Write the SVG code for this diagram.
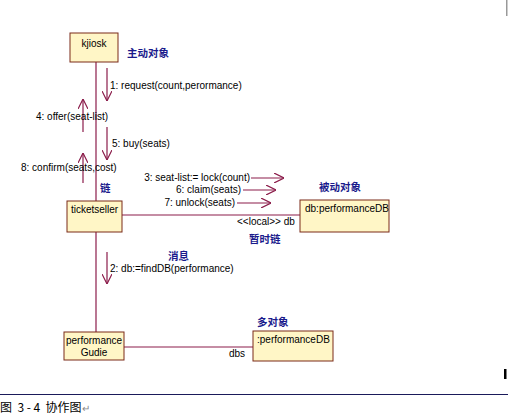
<svg xmlns="http://www.w3.org/2000/svg" width="508" height="414" viewBox="0 0 508 414">
<defs>
<marker id="ah" viewBox="0 0 10 10" refX="10" refY="5" markerWidth="10" markerHeight="10" markerUnits="userSpaceOnUse" orient="auto">
<polyline points="0,0 10,5 0,10" fill="none" stroke="#8b1c4a" stroke-width="1.2"/>
</marker>
<style>
.box{fill:#fff6c6;stroke:#7a2a18;stroke-width:1}
.ln{stroke:#8b1c4a;stroke-width:1.2;fill:none}
.ar{stroke:#8b1c4a;stroke-width:1.2;fill:none;marker-end:url(#ah)}
.t{font-family:"Liberation Sans",Arial,sans-serif;font-size:10px;fill:#000}
.cn{font-family:"Noto Sans CJK SC",sans-serif;font-size:10.5px;font-weight:bold;fill:#1a1a8c}
.cap{font-family:"Noto Sans CJK SC",sans-serif;font-size:12px;fill:#000}
</style>
</defs>
<rect width="508" height="414" fill="#fff"/>
<g id="connectors">
<line class="ln" x1="96" y1="62" x2="96" y2="201"/>
<line class="ln" x1="96" y1="232" x2="96" y2="332"/>
<line class="ln" x1="122" y1="215" x2="300" y2="215"/>
<line class="ln" x1="124" y1="347" x2="253" y2="347"/>
<line class="ar" x1="107" y1="68" x2="107" y2="101"/>
<line class="ar" x1="83" y1="132" x2="83" y2="99"/>
<line class="ar" x1="107" y1="127" x2="107" y2="160"/>
<line class="ar" x1="83" y1="183" x2="83" y2="153"/>
<line class="ar" x1="107" y1="252" x2="107" y2="284"/>
<line class="ar" x1="251" y1="178" x2="284" y2="178"/>
<line class="ar" x1="243" y1="190" x2="276" y2="190"/>
<line class="ar" x1="237" y1="203" x2="271" y2="203"/>
<text class="t" x="110" y="89">1: request(count,perormance)</text>
<text class="t" x="36" y="120">4: offer(seat-list)</text>
<text class="t" x="112" y="147">5: buy(seats)</text>
<text class="t" x="21" y="171">8: confirm(seats,cost)</text>
<text class="t" x="250" y="181" text-anchor="end">3: seat-list:= lock(count)</text>
<text class="t" x="241" y="193" text-anchor="end">6: claim(seats)</text>
<text class="t" x="235" y="206" text-anchor="end">7: unlock(seats)</text>
<text class="t" x="237" y="225">&lt;&lt;local&gt;&gt; db</text>
<text class="t" x="110" y="272">2: db:=findDB(performance)</text>
<text class="t" x="229" y="357">dbs</text>
</g>
<g id="kjiosk">
<rect class="box" x="70" y="33" width="48" height="29"/>
<text class="t" x="94" y="47" text-anchor="middle">kjiosk</text>
</g>
<g id="ticketseller">
<rect class="box" x="67" y="201" width="55" height="31"/>
<text class="t" x="94.5" y="213" text-anchor="middle">ticketseller</text>
</g>
<g id="dbPerformanceDB">
<rect class="box" x="300" y="200" width="89" height="32"/>
<text class="t" x="305" y="212">db:performanceDB</text>
</g>
<g id="performanceGudie">
<rect class="box" x="64" y="332" width="60" height="28"/>
<text class="t" x="94" y="344" text-anchor="middle">performance</text>
<text class="t" x="94" y="356" text-anchor="middle">Gudie</text>
</g>
<g id="performanceDB">
<rect class="box" x="253" y="331" width="80" height="30"/>
<text class="t" x="257" y="343">:performanceDB</text>
</g>
<g id="annotations">
<text class="cn" x="127" y="57">主动对象</text>
<text class="cn" x="319" y="191">被动对象</text>
<text class="cn" x="249" y="243">暂时链</text>
<text class="cn" x="100" y="192">链</text>
<text class="cn" x="168" y="260">消息</text>
<text class="cn" x="257" y="326">多对象</text>
</g>
<g id="caption">
<rect x="506" y="0" width="1.5" height="16" fill="#999"/>
<rect x="504" y="369" width="2.5" height="10" fill="#000"/>
<line x1="0" y1="394.5" x2="508" y2="394.5" stroke="#1a1a5a" stroke-width="1.2"/>
<text class="cap" x="0" y="412" xml:space="preserve">图  3 - 4  协作图<tspan fill="#888" font-size="10">↵</tspan></text>
</g>
</svg>
